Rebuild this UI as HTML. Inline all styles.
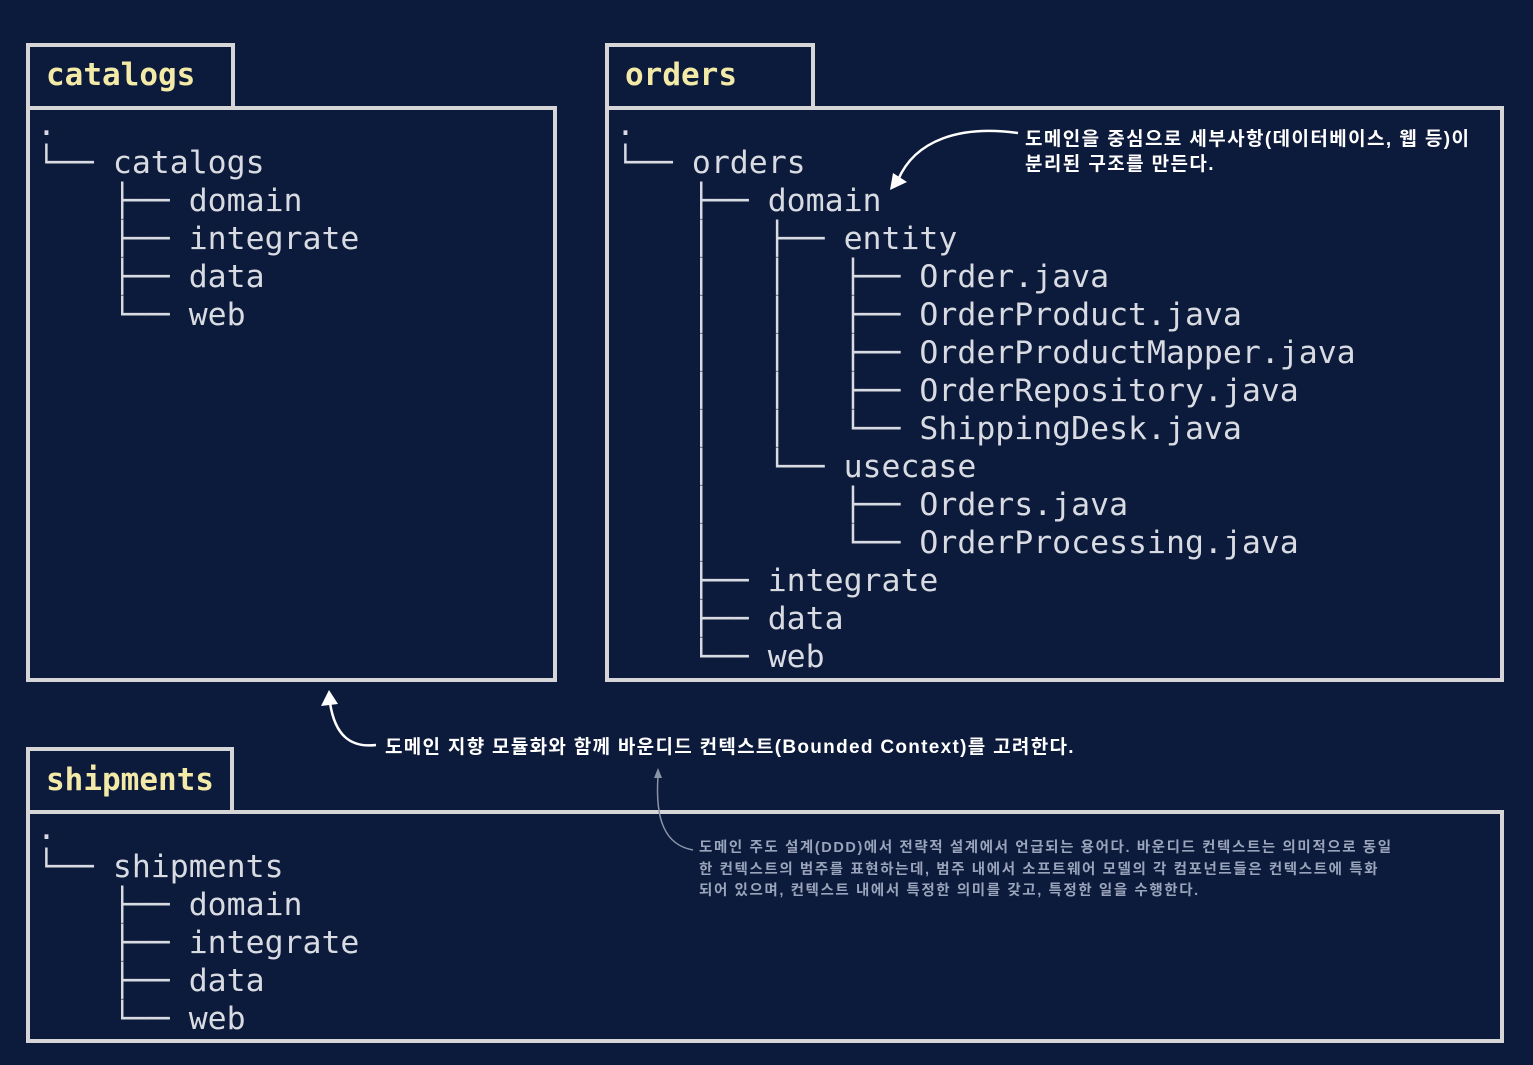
<!DOCTYPE html>
<html><head><meta charset="utf-8"><style>
body{margin:0;width:1533px;height:1065px;background:#0c1a3b;position:relative;overflow:hidden}
.b{position:absolute;border:4px solid #d6d6d8;box-sizing:border-box}
.t{position:absolute;font:bold 31px "DejaVu Sans Mono","Liberation Mono",monospace;color:#f3eaa8;line-height:1}
pre{position:absolute;margin:0;font:31.5px/38px "DejaVu Sans Mono","Liberation Mono",monospace;color:#d8dbe2}
.k{position:absolute;font:bold 19px/25px "Liberation Sans","Noto Sans CJK KR",sans-serif;color:#fff;letter-spacing:1.4px;white-space:nowrap}
.s{position:absolute;font:bold 14.5px/21.5px "Liberation Sans","Noto Sans CJK KR",sans-serif;color:#9aa4bb;letter-spacing:1.6px;white-space:nowrap}
</style></head><body>
<div class="b" style="left:26px;top:43px;width:209px;height:67px"></div>
<div class="b" style="left:26px;top:106px;width:531px;height:576px"></div>
<div class="t" style="left:46px;top:60px">catalogs</div>
<div class="b" style="left:605px;top:43px;width:210px;height:67px"></div>
<div class="b" style="left:605px;top:106px;width:899px;height:576px"></div>
<div class="t" style="left:625px;top:60px">orders</div>
<div class="b" style="left:26px;top:747px;width:208px;height:67px"></div>
<div class="b" style="left:26px;top:810px;width:1478px;height:233px"></div>
<div class="t" style="left:46px;top:765px">shipments</div>
<pre style="left:37px;top:106px">.
└── catalogs
    ├── domain
    ├── integrate
    ├── data
    └── web</pre>
<pre style="left:616px;top:106px">.
└── orders
    ├── domain
    │   ├── entity
    │   │   ├── Order.java
    │   │   ├── OrderProduct.java
    │   │   ├── OrderProductMapper.java
    │   │   ├── OrderRepository.java
    │   │   └── ShippingDesk.java
    │   └── usecase
    │       ├── Orders.java
    │       └── OrderProcessing.java
    ├── integrate
    ├── data
    └── web</pre>
<pre style="left:37px;top:810px">.
└── shipments
    ├── domain
    ├── integrate
    ├── data
    └── web</pre>
<div class="k" style="left:1025px;top:127px">도메인을 중심으로 세부사항(데이터베이스, 웹 등)이</div>
<div class="k" style="left:1025px;top:152px">분리된 구조를 만든다.</div>
<div class="k" style="left:385px;top:735px;letter-spacing:1.3px">도메인 지향 모듈화와 함께 바운디드 컨텍스트(Bounded Context)를 고려한다.</div>
<div class="s" style="left:699px;top:838px">도메인 주도 설계(DDD)에서 전략적 설계에서 언급되는 용어다. 바운디드 컨텍스트는 의미적으로 동일</div>
<div class="s" style="left:699px;top:860px">한 컨텍스트의 범주를 표현하는데, 범주 내에서 소프트웨어 모델의 각 컴포넌트들은 컨텍스트에 특화</div>
<div class="s" style="left:699px;top:881px">되어 있으며, 컨텍스트 내에서 특정한 의미를 갖고, 특정한 일을 수행한다.</div>
<svg width="1533" height="1065" style="position:absolute;left:0;top:0">
<path d="M1018 133 C960 125 915 140 898 180" fill="none" stroke="#fff" stroke-width="2.5"/>
<polygon points="890,190 893,173 907,182" fill="#fff"/>
<path d="M376 745 C350 748 335 735 330 703" fill="none" stroke="#fff" stroke-width="2.5"/>
<polygon points="329,690 321,706 338,704" fill="#fff"/>
<path d="M693 850 C665 845 655 820 658 776" fill="none" stroke="#8a93a8" stroke-width="1.5"/>
<polygon points="658,768 654,778 662,778" fill="#8a93a8"/>
</svg>
</body></html>
